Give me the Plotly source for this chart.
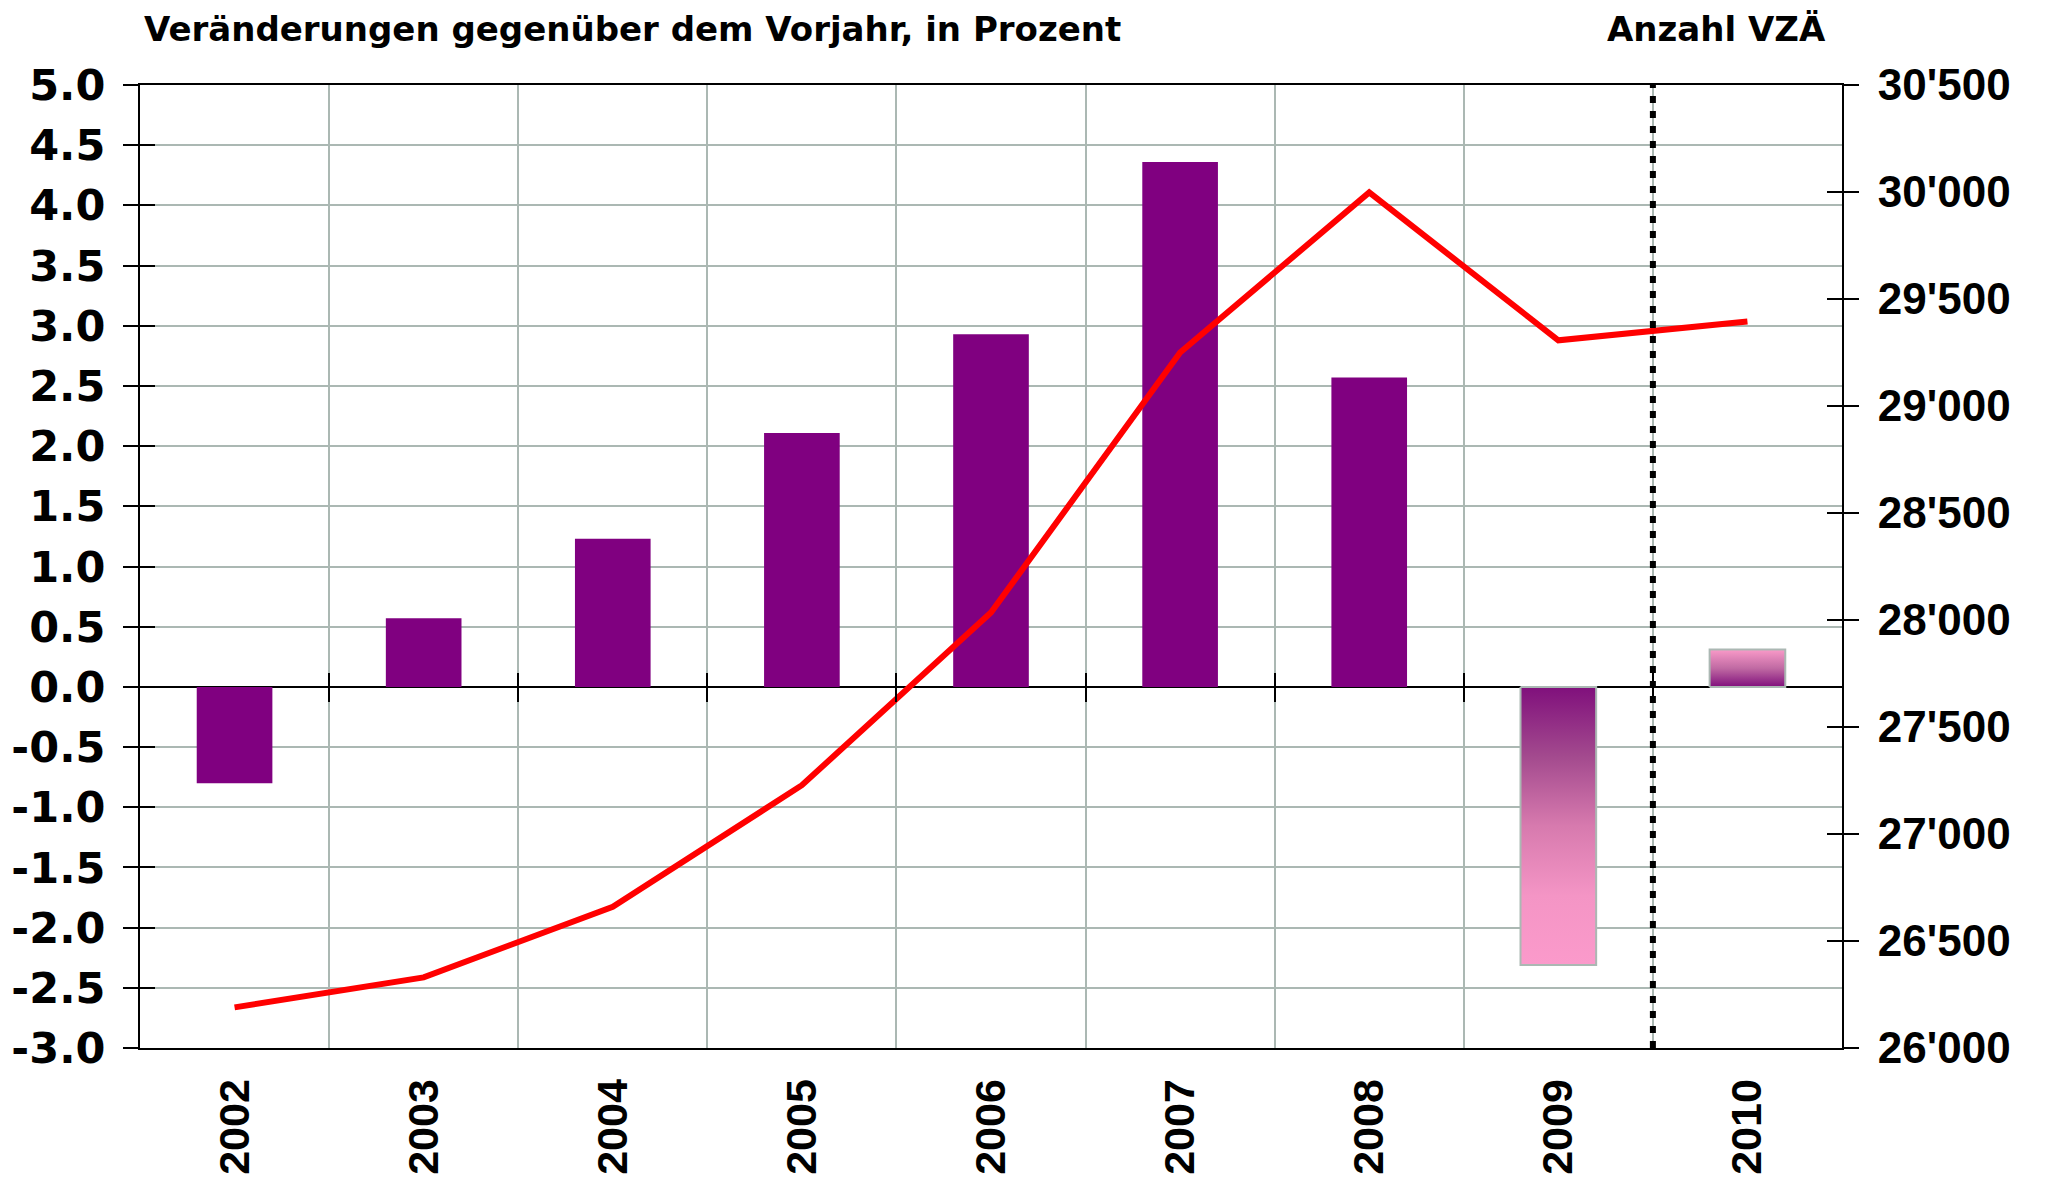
import plotly.graph_objects as go

# ---- data ----
years = ["2002", "2003", "2004", "2005", "2006", "2007", "2008", "2009", "2010"]
pct_change = [-0.80, 0.57, 1.23, 2.11, 2.93, 4.36, 2.57, -2.31, 0.31]
vza_count = [26190, 26330, 26660, 27228, 28035, 29250, 29998, 29307, 29395]
gradient_years = ["2009", "2010"]   # bars drawn with colour gradient
forecast_start = "2010"             # dotted separator before this year

left_ticks = [-3.0 + 0.5 * k for k in range(17)]
left_ticktext = [f"{v:.1f}" for v in left_ticks]
right_ticks = [26000 + 500 * k for k in range(10)]
right_ticktext = [f"{v:,}".replace(",", "'") for v in right_ticks]

left_title = "Veränderungen gegenüber dem Vorjahr, in Prozent"
right_title = "Anzahl VZÄ"

# ---- style ----
PURPLE = "#800080"
PINK = "#fb9acb"
GRID = "#abb8b3"
BAR_W = 0.4
YMIN, YMAX = -3.0, 5.0
Y2MIN, Y2MAX = 26000, 30500
LEFTFONT = dict(family="DejaVu Sans", size=43, color="black", weight="bold")
RIGHTFONT = dict(family="Liberation Sans", size=44, color="black", weight="bold")
XFONT = dict(family="Liberation Sans", size=43, color="black", weight="bold")
TITLEFONT = dict(family="DejaVu Sans", size=34, color="black", weight="bold")

idx = list(range(len(years)))
boundaries = [i + 0.5 for i in idx[:-1]]

fig = go.Figure()

# solid bars
solid_y = [v if y not in gradient_years else None for y, v in zip(years, pct_change)]
fig.add_trace(go.Bar(x=idx, y=solid_y, width=BAR_W, marker=dict(color=PURPLE, line=dict(width=0)),
                     xaxis="x", yaxis="y", showlegend=False, hoverinfo="skip"))

# gradient bars as filled polygons derived from the data
for y, v, i in zip(years, pct_change, idx):
    if y not in gradient_years:
        continue
    xs = [i - BAR_W / 2, i + BAR_W / 2, i + BAR_W / 2, i - BAR_W / 2, i - BAR_W / 2]
    ys = [0, 0, v, v, 0]
    if v < 0:
        cs = [[0, PINK], [0.25, "#f495c5"], [0.5, "#d77aae"], [0.75, "#a34a8e"], [1, "#80107c"]]
    else:
        cs = [[0, "#80107c"], [0.5, "#c06aa3"], [1, "#f99ac8"]]
    fig.add_trace(go.Scatter(x=xs, y=ys, mode="lines", fill="toself",
                             fillgradient=dict(type="vertical", colorscale=cs),
                             line=dict(color=GRID, width=2),
                             xaxis="x", yaxis="y", showlegend=False, hoverinfo="skip"))

# red line on right axis
fig.add_trace(go.Scatter(x=idx, y=vza_count, mode="lines", line=dict(color="#ff0000", width=6),
                         xaxis="x", yaxis="y2", showlegend=False, hoverinfo="skip"))

# dummy traces for overlay tick axes
fig.add_trace(go.Scatter(x=[0], y=[0], mode="markers", marker=dict(opacity=0),
                         xaxis="x2", yaxis="y3", showlegend=False, hoverinfo="skip"))
fig.add_trace(go.Scatter(x=[0], y=[27000], mode="markers", marker=dict(opacity=0),
                         xaxis="x3", yaxis="y4", showlegend=False, hoverinfo="skip"))

# dotted separator
sep_x = years.index(forecast_start) - 0.5
fig.add_shape(type="line", xref="x", yref="paper", x0=sep_x, x1=sep_x, y0=0, y1=1,
              line=dict(color="black", width=6, dash="7px,8px"), layer="above")

xrange = [-0.5, len(years) - 0.5]
zero_pos = (0 - YMIN) / (YMAX - YMIN)

fig.update_layout(
    width=2059, height=1180,
    margin=dict(l=140, r=217, t=85, b=132, autoexpand=False),
    paper_bgcolor="white", plot_bgcolor="white",
    xaxis=dict(range=xrange, tickmode="array", tickvals=idx, ticktext=years, tickangle=-90,
               tickfont=XFONT, showgrid=False, zeroline=False, ticks="",
               showline=True, mirror=True, linecolor="black", linewidth=2,
               minor=dict(tickmode="array", tickvals=boundaries, showgrid=True,
                          gridcolor=GRID, gridwidth=2, ticks=""),
               ticklabelstandoff=12, automargin=False),
    xaxis2=dict(range=xrange, overlaying="x", anchor="free", position=zero_pos,
                tickmode="array", tickvals=boundaries, ticks="outside", ticklen=14,
                tickwidth=2, tickcolor="black", showticklabels=False, showgrid=False,
                zeroline=False, showline=False, automargin=False),
    xaxis3=dict(range=xrange, overlaying="x", anchor="free", position=zero_pos,
                tickmode="array", tickvals=boundaries, ticks="inside", ticklen=14,
                tickwidth=2, tickcolor="black", showticklabels=False, showgrid=False,
                zeroline=False, showline=False, automargin=False),
    yaxis=dict(range=[YMIN, YMAX], tickmode="array", tickvals=left_ticks, ticktext=left_ticktext,
               tickfont=LEFTFONT, showgrid=True, gridcolor=GRID, gridwidth=2,
               zeroline=True, zerolinecolor="black", zerolinewidth=2,
               showline=True, linecolor="black", linewidth=2,
               ticks="outside", ticklen=15, tickwidth=2, tickcolor="black",
               ticklabelstandoff=9, automargin=False),
    yaxis2=dict(range=[Y2MIN, Y2MAX], overlaying="y", side="right", anchor="x",
                tickmode="array", tickvals=right_ticks, ticktext=right_ticktext,
                tickfont=RIGHTFONT, showgrid=False, zeroline=False,
                showline=True, linecolor="black", linewidth=2,
                ticks="outside", ticklen=15, tickwidth=2, tickcolor="black",
                ticklabelstandoff=10, automargin=False),
    yaxis3=dict(range=[YMIN, YMAX], overlaying="y", side="left", anchor="x2",
                tickmode="array", tickvals=left_ticks, ticks="inside", ticklen=15,
                tickwidth=2, tickcolor="black", showticklabels=False, showgrid=False,
                zeroline=False, showline=False, automargin=False),
    yaxis4=dict(range=[Y2MIN, Y2MAX], overlaying="y", side="right", anchor="x3",
                tickmode="array", tickvals=right_ticks, ticks="inside", ticklen=15,
                tickwidth=2, tickcolor="black", showticklabels=False, showgrid=False,
                zeroline=False, showline=False, automargin=False),
    showlegend=False,
    annotations=[
        dict(text=left_title, xref="paper", yref="paper", x=0, y=1, xanchor="left",
             yanchor="middle", yshift=56, xshift=2, showarrow=False, font=TITLEFONT),
        dict(text=right_title, xref="paper", yref="paper", x=1, y=1, xanchor="right",
             yanchor="middle", yshift=56, xshift=-14, showarrow=False, font=TITLEFONT),
    ],
)

fig.write_html("out.html", config={"displayModeBar": False},
               post_script="document.body.style.margin='0';document.body.style.overflow='hidden';")
